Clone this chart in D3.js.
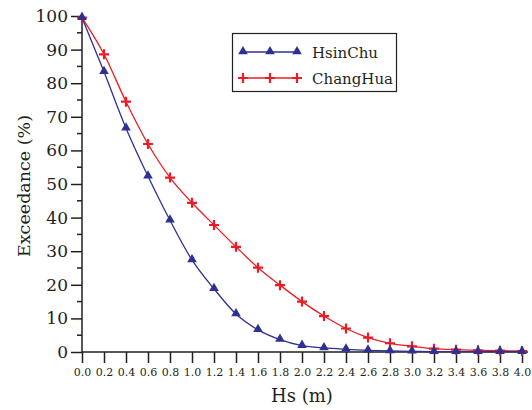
<!DOCTYPE html>
<html><head><meta charset="utf-8">
<script src="https://cdn.jsdelivr.net/npm/d3@7"></script>
<style>body{margin:0;background:#fff}svg{display:block}</style>
</head><body><div id="chart"></div>
<script>
const hsValues = [0.0,0.2,0.4,0.6,0.8,1.0,1.2,1.4,1.6,1.8,2.0,2.2,2.4,2.6,2.8,3.0,3.2,3.4,3.6,3.8,4.0];
const hsinChu = [99.5,83.4,66.6,52.3,39.2,27.4,18.8,11.3,6.6,3.7,1.9,1.2,0.8,0.5,0.3,0.2,0.1,0.1,0.1,0.1,0.1];
const changHua = [99.5,88.6,74.5,61.9,51.9,44.4,37.8,31.3,25.1,19.9,15.0,10.7,7.0,4.3,2.6,1.7,1.0,0.7,0.5,0.4,0.3];
const yTicks = [0,10,20,30,40,50,60,70,80,90,100];
const seriesNames = ["HsinChu","ChangHua"];
const seriesColors = ["#2e3192","#ed1c24"];
const FONT = "DejaVu Serif";

const W=532,H=410;
const svg=d3.select("#chart").append("svg").attr("width",W).attr("height",H);
const x=d3.scaleLinear().domain([0,4]).range([82,522]);
const y=d3.scaleLinear().domain([0,100]).range([352,16]);

// y axis
const yAxis=d3.axisLeft(y).tickValues(yTicks).tickSize(11).tickPadding(3).tickFormat(d3.format("d"));
const ga=svg.append("g").attr("transform","translate(82,0)").call(yAxis).attr("font-family",FONT).attr("font-size",17);
ga.select(".domain").attr("stroke","#231f20").attr("stroke-width",1.5).attr("d","M0,16V352");
ga.selectAll(".tick line").attr("stroke","#231f20").attr("stroke-width",1.5);
ga.selectAll(".tick text").attr("fill","#231f20");
// minor y ticks
svg.append("g").selectAll("line").data(d3.range(5,100,10)).join("line")
  .attr("x1",77).attr("x2",82).attr("y1",d=>y(d)).attr("y2",d=>y(d))
  .attr("stroke","#231f20").attr("stroke-width",1.5);

// x axis
const xAxis=d3.axisBottom(x).tickValues(hsValues).tickSize(11).tickPadding(5).tickFormat(d3.format(".1f"));
const gx=svg.append("g").attr("transform","translate(0,352)").call(xAxis).attr("font-family",FONT).attr("font-size",11);
gx.select(".domain").attr("stroke","#231f20").attr("stroke-width",1.5).attr("d","M82,0H528");
gx.selectAll(".tick line").attr("stroke","#231f20").attr("stroke-width",1.5);
gx.selectAll(".tick text").attr("fill","#231f20");

// axis titles
svg.append("text").attr("x",302).attr("y",402).attr("text-anchor","middle").attr("font-family",FONT).attr("font-size",18).attr("fill","#231f20").text("Hs (m)");
svg.append("text").attr("transform","translate(30,186) rotate(-90)").attr("text-anchor","middle").attr("font-family",FONT).attr("font-size",17.5).attr("fill","#231f20").text("Exceedance (%)");

const line=d3.line().x((d,i)=>x(hsValues[i])).y(d=>y(d)).curve(d3.curveMonotoneX);
const tri=d3.symbol().type(d3.symbolTriangle).size(40);
const cross="M-5,0H5M0,-5V5";

function drawSeries(vals,color,kind){
  svg.append("path").attr("d",line(vals)).attr("fill","none").attr("stroke",color).attr("stroke-width",1.3);
  const g=svg.append("g");
  vals.forEach((v,i)=>{
    if(kind==="tri") g.append("path").attr("d",tri()).attr("transform",`translate(${x(hsValues[i])},${y(v)-0.5})`).attr("fill",color);
    else g.append("path").attr("d",cross).attr("transform",`translate(${x(hsValues[i])},${y(v)})`).attr("stroke",color).attr("stroke-width",2.2).attr("fill","none");
  });
}
drawSeries(changHua,seriesColors[1],"cross");
drawSeries(hsinChu,seriesColors[0],"tri");

// legend
const lg=svg.append("g");
lg.append("rect").attr("x",232.5).attr("y",33.5).attr("width",164).attr("height",58).attr("fill","#fff").attr("stroke","#231f20").attr("stroke-width",1.2);
[[52,"tri"],[78,"cross"]].forEach(([ly,kind],i)=>{
  lg.append("line").attr("x1",243).attr("x2",298).attr("y1",ly).attr("y2",ly).attr("stroke",seriesColors[i]).attr("stroke-width",1.3);
  [243,270,297].forEach(px=>{
    if(kind==="tri") lg.append("path").attr("d",tri()).attr("transform",`translate(${px},${ly-0.5})`).attr("fill",seriesColors[i]);
    else lg.append("path").attr("d",cross).attr("transform",`translate(${px},${ly})`).attr("stroke",seriesColors[i]).attr("stroke-width",2.2);
  });
  lg.append("text").attr("x",312).attr("y",ly+5.5).attr("font-family",FONT).attr("font-size",15).attr("fill","#231f20").text(seriesNames[i]);
});
</script></body></html>
